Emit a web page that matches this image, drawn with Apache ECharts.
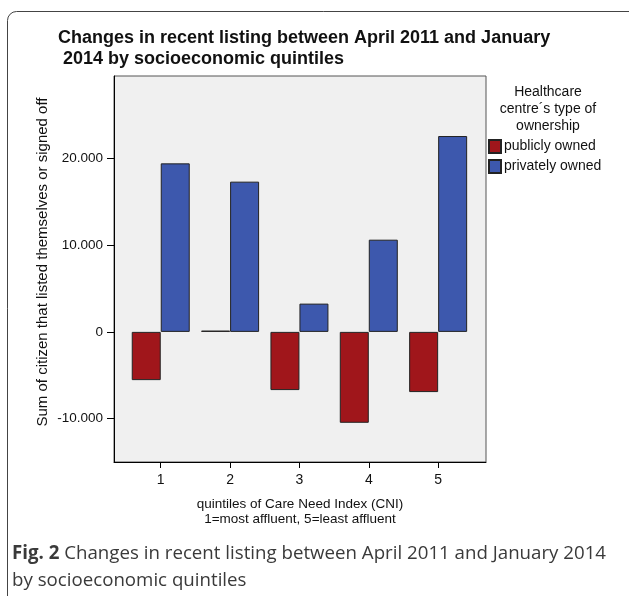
<!DOCTYPE html>
<html>
<head>
<meta charset="utf-8">
<script src="https://cdn.jsdelivr.net/npm/echarts@6/dist/echarts.min.js"></script>
<style>
  html, body { margin: 0; padding: 0; background: #fff; }
  #main { width: 629px; height: 596px; }
</style>
</head>
<body>
<div id="main"></div>
<script>
// data
var quintiles = [1, 2, 3, 4, 5];
var publiclyOwned = [-5560, 150, -6710, -10480, -6940];
var privatelyOwned = [19430, 17320, 3260, 10630, 22580];
var yTicks = [-10000, 0, 10000, 20000];

function pairs(vals) {
  return quintiles.map(function (q, i) { return [q, vals[i]]; });
}

var chart = echarts.init(document.getElementById('main'));
var option = {
  backgroundColor: '#fff',
  animation: false,
  textStyle: { fontFamily: 'Liberation Sans, Arial, sans-serif' },
  title: {
    text: 'Changes in recent listing between April 2011 and January\n 2014 by socioeconomic quintiles',
    left: 53,
    top: 23,
    textStyle: {
      fontFamily: 'Liberation Sans, Arial',
      fontWeight: 'bold',
      fontSize: 18,
      lineHeight: 21,
      color: '#111'
    }
  },
  legend: {
    orient: 'vertical',
    left: 483,
    top: 134,
    icon: 'rect',
    itemWidth: 12,
    itemHeight: 13,
    itemGap: 5,
    textStyle: { fontSize: 14, color: '#111', padding: [0, 0, 0, -2] },
    data: ['publicly owned', 'privately owned']
  },
  grid: {
    left: 114, right: 143, top: 76, bottom: 134,
    show: true,
    backgroundColor: '#f0f0f0',
    borderColor: '#555',
    borderWidth: 1
  },
  xAxis: {
    type: 'value',
    min: 0.326,
    max: 5.69,
    name: 'quintiles of Care Need Index (CNI)\n1=most affluent, 5=least affluent',
    nameLocation: 'middle',
    nameGap: 35,
    nameTextStyle: { fontSize: 13.5, color: '#111', lineHeight: 15 },
    axisLine: { show: true, onZero: false, lineStyle: { color: '#000' } },
    axisTick: { show: true, length: 6, customValues: quintiles, lineStyle: { color: '#000' } },
    axisLabel: { customValues: quintiles, fontSize: 14, color: '#111', margin: 11 },
    splitLine: { show: false }
  },
  yAxis: {
    type: 'value',
    min: -15000,
    max: 29500,
    axisLine: { show: true, onZero: false, lineStyle: { color: '#000' } },
    axisTick: { show: true, length: 7, customValues: yTicks, lineStyle: { color: '#000' } },
    axisLabel: {
      customValues: yTicks,
      fontSize: 13.5,
      color: '#111',
      margin: 11,
      formatter: function (v) { return v.toLocaleString('de-DE'); }
    },
    splitLine: { show: false }
  },
  series: [
    {
      name: 'publicly owned',
      type: 'bar',
      barWidth: 29,
      barGap: '0%',
      data: pairs(publiclyOwned),
      itemStyle: { color: '#a0161b', borderColor: '#222', borderWidth: 1 }
    },
    {
      name: 'privately owned',
      type: 'bar',
      barWidth: 29,
      barGap: '0%',
      data: pairs(privatelyOwned),
      itemStyle: { color: '#3d58ad', borderColor: '#222', borderWidth: 1 }
    }
  ],
  graphic: [
    {
      type: 'rect',
      shape: { x: 7.5, y: 11.5, width: 700, height: 700, r: 9 },
      style: { fill: null, stroke: '#444', lineWidth: 1 },
      silent: true
    },
    {
      // y axis title
      type: 'text',
      x: 43,
      y: 262,
      rotation: Math.PI / 2,
      style: {
        text: 'Sum of citizen that listed themselves or signed off',
        align: 'center',
        verticalAlign: 'middle',
        font: '15px Liberation Sans, Arial',
        fill: '#111'
      }
    },
    {
      type: 'text',
      x: 548,
      y: 84,
      style: {
        text: 'Healthcare\ncentre´s type of\nownership',
        align: 'center',
        font: '14px Liberation Sans, Arial',
        lineHeight: 17,
        fill: '#111'
      }
    },
    {
      type: 'text',
      x: 12,
      y: 540,
      style: {
        text: '{b|Fig. 2} Changes in recent listing between April 2011 and January 2014\nby socioeconomic quintiles',
        font: '18.7px Open Sans, sans-serif',
        lineHeight: 27,
        fill: '#3a3a3a',
        rich: {
          b: { font: 'bold 18.7px Open Sans, sans-serif', fill: '#3a3a3a' }
        }
      }
    }
  ]
};
chart.setOption(option);
</script>
</body>
</html>
